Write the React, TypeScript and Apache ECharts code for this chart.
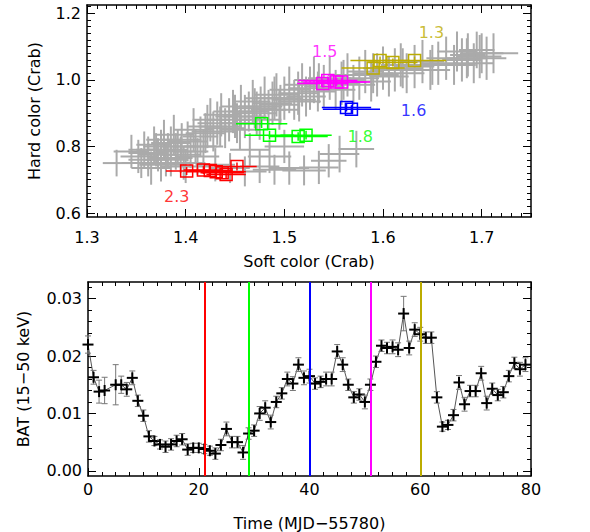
import React, { useEffect, useRef } from "react";
import * as echarts from "echarts";

const FONT = "DejaVu Sans";

// ---------- tick labels ----------
const softTicks = [1.3, 1.4, 1.5, 1.6, 1.7];
const hardTicks = [0.6, 0.8, 1.0, 1.2];
const timeTicks = [0, 20, 40, 60, 80];
const batTicks = [0.0, 0.01, 0.02, 0.03];

// ---------- top panel: grey colour-colour points [soft, hard, softErr, hardErr] ----------
const greyPoints = [
  [1.330, 0.750, 0.014, 0.040], [1.352, 0.770, 0.018, 0.050], [1.358, 0.790, 0.016, 0.055],
  [1.362, 0.760, 0.020, 0.050], [1.368, 0.805, 0.018, 0.055], [1.372, 0.775, 0.020, 0.050],
  [1.375, 0.745, 0.022, 0.050], [1.378, 0.820, 0.018, 0.060], [1.382, 0.790, 0.020, 0.050],
  [1.385, 0.765, 0.022, 0.055], [1.388, 0.835, 0.020, 0.060], [1.392, 0.800, 0.018, 0.050],
  [1.395, 0.775, 0.020, 0.055], [1.398, 0.750, 0.022, 0.050], [1.402, 0.815, 0.020, 0.060],
  [1.405, 0.785, 0.018, 0.050], [1.408, 0.850, 0.020, 0.065], [1.412, 0.770, 0.022, 0.055],
  [1.415, 0.830, 0.018, 0.060], [1.418, 0.800, 0.020, 0.050], [1.365, 0.735, 0.020, 0.050],
  [1.400, 0.740, 0.025, 0.050], [1.345, 0.785, 0.018, 0.050], [1.355, 0.750, 0.020, 0.045],
  [1.370, 0.790, 0.020, 0.050], [1.380, 0.760, 0.022, 0.050], [1.390, 0.785, 0.020, 0.055],
  [1.396, 0.820, 0.020, 0.050], [1.410, 0.800, 0.022, 0.050], [1.385, 0.810, 0.020, 0.050],
  [1.375, 0.800, 0.018, 0.050], [1.362, 0.780, 0.020, 0.050],
  [1.422, 0.860, 0.020, 0.065], [1.425, 0.880, 0.018, 0.065], [1.428, 0.845, 0.022, 0.060],
  [1.432, 0.870, 0.020, 0.065], [1.436, 0.895, 0.018, 0.065], [1.440, 0.855, 0.020, 0.060],
  [1.444, 0.880, 0.022, 0.065], [1.448, 0.905, 0.020, 0.065], [1.452, 0.870, 0.018, 0.060],
  [1.456, 0.920, 0.020, 0.065], [1.460, 0.890, 0.022, 0.065], [1.464, 0.905, 0.020, 0.060],
  [1.468, 0.935, 0.018, 0.065], [1.472, 0.900, 0.020, 0.065], [1.476, 0.920, 0.022, 0.060],
  [1.480, 0.945, 0.020, 0.065], [1.484, 0.910, 0.018, 0.060], [1.488, 0.930, 0.020, 0.065],
  [1.492, 0.955, 0.022, 0.065], [1.496, 0.925, 0.020, 0.060], [1.500, 0.945, 0.018, 0.065],
  [1.505, 0.970, 0.020, 0.070], [1.510, 0.940, 0.022, 0.060], [1.514, 0.960, 0.020, 0.065],
  [1.518, 0.985, 0.018, 0.065], [1.420, 0.840, 0.020, 0.060], [1.435, 0.860, 0.022, 0.060],
  [1.450, 0.890, 0.020, 0.065], [1.470, 0.915, 0.022, 0.060], [1.490, 0.945, 0.020, 0.065],
  [1.455, 0.850, 0.020, 0.060], [1.475, 0.880, 0.022, 0.060], [1.495, 0.910, 0.020, 0.060],
  [1.515, 0.935, 0.022, 0.060],
  [1.522, 0.950, 0.020, 0.060], [1.526, 0.975, 0.022, 0.065], [1.530, 1.000, 0.020, 0.070],
  [1.534, 0.965, 0.018, 0.060], [1.540, 0.980, 0.020, 0.065], [1.546, 1.005, 0.022, 0.065],
  [1.552, 0.970, 0.020, 0.060], [1.558, 0.990, 0.018, 0.065], [1.564, 1.015, 0.020, 0.065],
  [1.570, 0.985, 0.022, 0.060], [1.576, 1.005, 0.020, 0.065], [1.582, 1.025, 0.018, 0.065],
  [1.588, 0.995, 0.020, 0.060], [1.594, 1.015, 0.022, 0.065], [1.600, 1.035, 0.020, 0.065],
  [1.535, 0.990, 0.020, 0.060], [1.560, 1.000, 0.022, 0.060], [1.590, 1.020, 0.020, 0.060],
  [1.606, 1.010, 0.020, 0.060], [1.612, 1.030, 0.022, 0.065], [1.618, 1.045, 0.020, 0.065],
  [1.624, 1.020, 0.018, 0.060], [1.632, 1.040, 0.020, 0.065], [1.640, 1.055, 0.022, 0.065],
  [1.648, 1.030, 0.020, 0.060], [1.656, 1.050, 0.018, 0.065], [1.664, 1.065, 0.020, 0.065],
  [1.672, 1.045, 0.022, 0.060], [1.680, 1.060, 0.020, 0.065], [1.686, 1.075, 0.018, 0.065],
  [1.692, 1.050, 0.020, 0.060], [1.698, 1.070, 0.022, 0.065], [1.705, 1.065, 0.020, 0.065],
  [1.712, 1.080, 0.025, 0.060], [1.675, 1.085, 0.020, 0.060], [1.695, 1.090, 0.018, 0.055],
  [1.620, 1.035, 0.020, 0.060], [1.650, 1.045, 0.022, 0.060], [1.685, 1.065, 0.020, 0.060],
  [1.700, 1.080, 0.022, 0.060],
  [1.445, 0.735, 0.020, 0.045], [1.460, 0.725, 0.022, 0.045], [1.475, 0.740, 0.020, 0.050],
  [1.490, 0.730, 0.022, 0.045], [1.505, 0.735, 0.020, 0.050], [1.520, 0.728, 0.022, 0.045],
  [1.535, 0.737, 0.020, 0.050], [1.430, 0.745, 0.020, 0.050],
  [1.545, 0.757, 0.018, 0.050], [1.556, 0.777, 0.020, 0.055], [1.573, 0.792, 0.018, 0.055],
  [1.465, 0.790, 0.020, 0.050], [1.485, 0.770, 0.022, 0.050], [1.500, 0.800, 0.020, 0.050],
];

// ---------- highlighted intervals [soft, hard, softErr, hardErr] ----------
const redPoints = [
  [1.401, 0.726, 0.021, 0.012], [1.418, 0.729, 0.020, 0.012], [1.425, 0.728, 0.022, 0.012],
  [1.431, 0.724, 0.030, 0.012], [1.437, 0.721, 0.022, 0.012], [1.441, 0.716, 0.020, 0.012],
  [1.452, 0.740, 0.020, 0.012],
];
const greenPoints = [
  [1.477, 0.868, 0.026, 0.013], [1.485, 0.834, 0.025, 0.013],
  [1.514, 0.830, 0.030, 0.013], [1.522, 0.834, 0.026, 0.013],
];
const bluePoints = [
  [1.563, 0.917, 0.025, 0.012], [1.568, 0.912, 0.029, 0.012],
];
const magentaPoints = [
  [1.539, 0.989, 0.026, 0.012], [1.544, 0.998, 0.030, 0.012],
  [1.553, 0.994, 0.034, 0.012], [1.558, 0.994, 0.025, 0.012],
];
const olivePoints = [
  [1.590, 1.036, 0.032, 0.012], [1.597, 1.058, 0.030, 0.012],
  [1.610, 1.052, 0.025, 0.012], [1.632, 1.058, 0.032, 0.012],
];

// annotation texts (label, soft, hard)
const annotations = [
  ["2.3", 1.391, 0.651],
  ["1.8", 1.577, 0.829],
  ["1.6", 1.631, 0.907],
  ["1.5", 1.541, 1.084],
  ["1.3", 1.649, 1.143],
];

// ---------- bottom panel: BAT light curve ----------
const batTime = [
  0, 1, 2, 3, 5, 6, 7, 8, 9, 10, 11, 12, 13, 14, 15, 16, 17, 18, 19, 20,
  21, 22, 23, 24, 25, 26, 27, 28, 29, 30, 31, 32, 33, 34, 35, 36, 37, 38, 39, 40,
  41, 42, 43, 44, 45, 46, 47, 48, 49, 50, 51, 52, 53, 54, 55, 56, 57, 58, 59, 60,
  61, 62, 63, 64, 65, 66, 67, 68, 69, 70, 71, 72, 73, 74, 75, 76, 77, 78, 79,
];
const batRate = [
  0.0220, 0.0163, 0.0138, 0.0140, 0.0150, 0.0150, 0.0142, 0.0162, 0.0122, 0.0096,
  0.0060, 0.0052, 0.0046, 0.0042, 0.0046, 0.0052, 0.0055, 0.0037, 0.0040, 0.0040,
  0.0038, 0.0035, 0.0030, 0.0045, 0.0073, 0.0050, 0.0050, 0.0032, 0.0065, 0.0070,
  0.0100, 0.0110, 0.0085, 0.0120, 0.0135, 0.0160, 0.0152, 0.0185, 0.0162, 0.0165,
  0.0152, 0.0155, 0.0160, 0.0160, 0.0208, 0.0185, 0.0150, 0.0128, 0.0133, 0.0120,
  0.0150, 0.0190, 0.0218, 0.0214, 0.0216, 0.0211, 0.0274, 0.0214, 0.0246, 0.0238,
  0.0232, 0.0232, 0.0128, 0.0077, 0.0080, 0.0097, 0.0154, 0.0116, 0.0139, 0.0139,
  0.0170, 0.0118, 0.0143, 0.0132, 0.0137, 0.0165, 0.0188, 0.0177, 0.0185,
];
const batErr = [
  0.0015, 0.0012, 0.0020, 0.0023, 0.0035, 0.0015, 0.0012, 0.0012, 0.0010, 0.0010,
  0.0010, 0.0008, 0.0008, 0.0010, 0.0010, 0.0010, 0.0010, 0.0010, 0.0008, 0.0008,
  0.0008, 0.0008, 0.0010, 0.0010, 0.0012, 0.0010, 0.0010, 0.0012, 0.0010, 0.0010,
  0.0012, 0.0012, 0.0012, 0.0010, 0.0010, 0.0012, 0.0012, 0.0012, 0.0012, 0.0012,
  0.0010, 0.0010, 0.0012, 0.0012, 0.0012, 0.0012, 0.0010, 0.0010, 0.0010, 0.0012,
  0.0010, 0.0010, 0.0010, 0.0010, 0.0012, 0.0012, 0.0030, 0.0012, 0.0012, 0.0012,
  0.0010, 0.0010, 0.0010, 0.0008, 0.0008, 0.0010, 0.0012, 0.0012, 0.0010, 0.0010,
  0.0012, 0.0012, 0.0010, 0.0010, 0.0010, 0.0010, 0.0010, 0.0012, 0.0012,
];

// interval markers on time axis
const markerTimes = [21, 29, 40, 51, 60];
const markerColors = ["#ff0000", "#00ff00", "#0000ff", "#ff00ff", "#bcac00"];

function steps(start: number, end: number, step: number): number[] {
  const out: number[] = [];
  const n = Math.round((end - start) / step);
  for (let i = 0; i <= n; i++) out.push(Math.round((start + i * step) * 1e6) / 1e6);
  return out;
}

const softMinor = steps(1.3, 1.75, 0.01);
const hardMinor = steps(0.6, 1.22, 0.02);
const timeMinor = steps(0, 80, 2.5);
const batMinor = steps(0, 0.032, 0.002);

function axis(
  dir: "x" | "y",
  gridIndex: number,
  position: string,
  min: number,
  max: number,
  values: number[],
  kind: "major" | "minor",
  fmt?: (v: number) => string,
  name?: string,
  nameGap?: number,
  labelMargin?: number
) {
  const showLabel = !!fmt;
  return {
    type: "value",
    gridIndex,
    position,
    min,
    max,
    scale: true,
    name: name || "",
    nameLocation: "middle",
    nameGap: nameGap || 0,
    nameTextStyle: { fontFamily: FONT, fontSize: 16, color: "#000" },
    axisLine: {
      show: kind === "major",
      onZero: false,
      lineStyle: { color: "#000", width: 1.5 },
    },
    axisTick: {
      show: true,
      inside: true,
      length: kind === "major" ? 8 : 4,
      customValues: values,
      lineStyle: { color: "#000", width: 1 },
    },
    minorTick: { show: false },
    axisLabel: {
      show: showLabel,
      customValues: values,
      formatter: fmt ? (v: number) => fmt(v) : undefined,
      fontFamily: FONT,
      fontSize: 16,
      color: "#000",
      margin: labelMargin ?? 8,
      showMinLabel: true,
      showMaxLabel: true,
    },
    splitLine: { show: false },
    axisPointer: { show: false },
  };
}

function errorSquares(points: number[][], color: string) {
  return {
    type: "custom",
    xAxisIndex: 0,
    yAxisIndex: 0,
    z: 5,
    encode: { x: 0, y: 1 },
    data: points,
    renderItem: (params: any, api: any) => {
      const s = api.value(0), h = api.value(1), se = api.value(2), he = api.value(3);
      const c = api.coord([s, h]);
      const l = api.coord([s - se, h]);
      const r = api.coord([s + se, h]);
      const b = api.coord([s, h - he]);
      const t = api.coord([s, h + he]);
      const st = { stroke: color, lineWidth: 1.5, fill: "none" };
      return {
        type: "group",
        children: [
          { type: "line", shape: { x1: l[0], y1: l[1], x2: r[0], y2: r[1] }, style: st },
          { type: "line", shape: { x1: b[0], y1: b[1], x2: t[0], y2: t[1] }, style: st },
          { type: "rect", shape: { x: c[0] - 6, y: c[1] - 6, width: 12, height: 12 }, style: st },
        ],
      };
    },
  };
}

export default function App() {
  const ref = useRef<HTMLDivElement>(null);

  useEffect(() => {
    if (!ref.current) return;
    const chart = echarts.init(ref.current, undefined, { renderer: "svg" });

    const batData = batTime.map((t, i) => [t, batRate[i], batErr[i]]);

    const option: any = {
      animation: false,
      backgroundColor: "#fff",
      grid: [
        { left: 87, top: 5, width: 444, height: 212 },
        { left: 88, top: 282, width: 443, height: 195 },
      ],
      xAxis: [
        axis("x", 0, "bottom", 1.3, 1.75, softTicks, "major", (v) => v.toFixed(1), "Soft color (Crab)", 36, 12),
        axis("x", 0, "bottom", 1.3, 1.75, softMinor, "minor"),
        axis("x", 0, "top", 1.3, 1.75, softTicks, "major"),
        axis("x", 0, "top", 1.3, 1.75, softMinor, "minor"),
        axis("x", 1, "bottom", 0, 80, timeTicks, "major", (v) => String(Math.round(v)), "Time (MJD\u221255780)", 39, 5),
        axis("x", 1, "bottom", 0, 80, timeMinor, "minor"),
        axis("x", 1, "top", 0, 80, timeTicks, "major"),
        axis("x", 1, "top", 0, 80, timeMinor, "minor"),
      ],
      yAxis: [
        axis("y", 0, "left", 0.588, 1.225, hardTicks, "major", (v) => v.toFixed(1), "Hard color (Crab)", 45, 6),
        axis("y", 0, "left", 0.588, 1.225, hardMinor, "minor"),
        axis("y", 0, "right", 0.588, 1.225, hardTicks, "major"),
        axis("y", 0, "right", 0.588, 1.225, hardMinor, "minor"),
        axis("y", 1, "left", -0.0009, 0.0329, batTicks, "major", (v) => v.toFixed(2), "BAT (15\u221250 keV)", 57, 6),
        axis("y", 1, "left", -0.0009, 0.0329, batMinor, "minor"),
        axis("y", 1, "right", -0.0009, 0.0329, batTicks, "major"),
        axis("y", 1, "right", -0.0009, 0.0329, batMinor, "minor"),
      ],
      series: [
        {
          type: "custom",
          xAxisIndex: 0,
          yAxisIndex: 0,
          z: 2,
          encode: { x: 0, y: 1 },
          data: greyPoints,
          renderItem: (params: any, api: any) => {
            const s = api.value(0), h = api.value(1), se = api.value(2), he = api.value(3);
            const l = api.coord([s - se, h]);
            const r = api.coord([s + se, h]);
            const b = api.coord([s, h - he]);
            const t = api.coord([s, h + he]);
            const st = { stroke: "#aaaaaa", lineWidth: 2 };
            return {
              type: "group",
              children: [
                { type: "line", shape: { x1: l[0], y1: l[1], x2: r[0], y2: r[1] }, style: st },
                { type: "line", shape: { x1: b[0], y1: b[1], x2: t[0], y2: t[1] }, style: st },
              ],
            };
          },
        },
        errorSquares(redPoints, "#ff0000"),
        errorSquares(greenPoints, "#00ff00"),
        errorSquares(bluePoints, "#0000ff"),
        errorSquares(magentaPoints, "#ff00ff"),
        errorSquares(olivePoints, "#bcac00"),
        {
          type: "scatter",
          xAxisIndex: 0,
          yAxisIndex: 0,
          z: 6,
          symbolSize: 0.1,
          itemStyle: { color: "rgba(0,0,0,0)" },
          silent: true,
          data: annotations.map((a, i) => ({
            value: [a[1], a[2]],
            name: a[0],
            label: { color: markerColors[i] },
          })),
          label: {
            show: true,
            position: "inside",
            formatter: (p: any) => p.name,
            fontFamily: FONT,
            fontSize: 16,
          },
        },
        // BAT light curve: connecting line
        {
          type: "line",
          xAxisIndex: 4,
          yAxisIndex: 4,
          z: 2,
          data: batData.map((d) => [d[0], d[1]]),
          showSymbol: false,
          symbol: "none",
          lineStyle: { color: "#555", width: 1 },
          markLine: {
            silent: true,
            symbol: ["none", "none"],
            label: { show: false },
            z: 10,
            data: markerTimes.map((t, i) => ({
              xAxis: t,
              lineStyle: { color: markerColors[i], width: 2, type: "solid" },
            })),
          },
        },
        // error bars and plus symbols
        {
          type: "custom",
          xAxisIndex: 4,
          yAxisIndex: 4,
          z: 3,
          encode: { x: 0, y: 1 },
          data: batData,
          renderItem: (params: any, api: any) => {
            const t = api.value(0), v = api.value(1), e = api.value(2);
            const c = api.coord([t, v]);
            const lo = api.coord([t, v - e]);
            const hi = api.coord([t, v + e]);
            const eb = { stroke: "#777", lineWidth: 1 };
            const pl = { stroke: "#000", lineWidth: 2 };
            return {
              type: "group",
              children: [
                { type: "line", shape: { x1: lo[0], y1: lo[1], x2: hi[0], y2: hi[1] }, style: eb },
                { type: "line", shape: { x1: lo[0] - 3, y1: lo[1], x2: lo[0] + 3, y2: lo[1] }, style: eb },
                { type: "line", shape: { x1: hi[0] - 3, y1: hi[1], x2: hi[0] + 3, y2: hi[1] }, style: eb },
                { type: "line", shape: { x1: c[0] - 5.5, y1: c[1], x2: c[0] + 5.5, y2: c[1] }, style: pl },
                { type: "line", shape: { x1: c[0], y1: c[1] - 5.5, x2: c[0], y2: c[1] + 5.5 }, style: pl },
              ],
            };
          },
        },
      ],
    };

    chart.setOption(option);
    return () => chart.dispose();
  }, []);

  return (
    <div
      ref={ref}
      style={{ position: "fixed", left: 0, top: 0, width: 590, height: 532, background: "#fff" }}
    />
  );
}
